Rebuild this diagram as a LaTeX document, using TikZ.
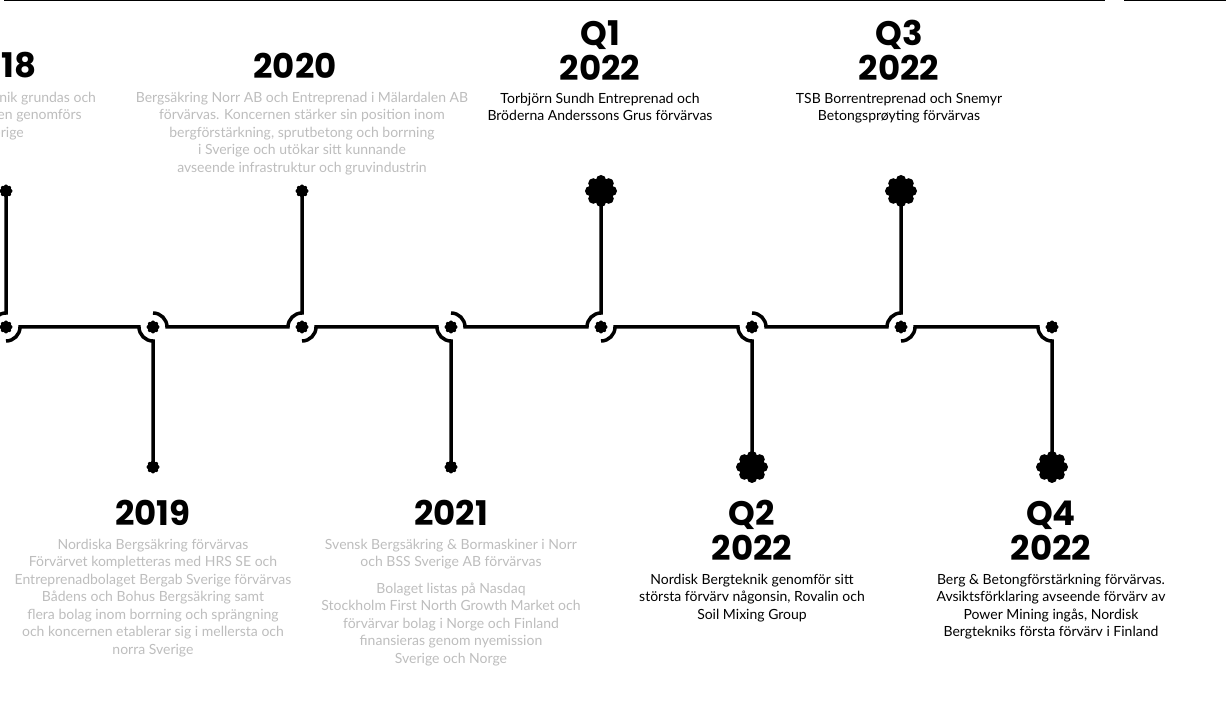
\documentclass[tikz,border=0pt]{standalone}
\usepackage{fontspec}
\setmainfont{Lato}
\newfontfamily\headfont{Poppins}
\usetikzlibrary{positioning}
\tikzset{
  head/.style={font=\headfont\bfseries\fontsize{34}{35}\selectfont, align=center, inner sep=0pt, anchor=south},
  txt/.style={font=\fontsize{14}{17.5}\selectfont, align=center, inner sep=0pt},
  faint/.style={txt, text=black!26},
  pics/bloom/.style={code={
      \fill (0,0) circle ({0.72*#1});
      \foreach \a in {0,45,...,315} \fill (\a:{0.68*#1}) circle ({0.32*#1});
  }}
}

\begin{document}
\begin{tikzpicture}[x=1pt, y=1pt, line width=3.5pt]
  \useasboundingbox (0,0) rectangle (1226,720);
  \clip (0,0) rectangle (1226,720);
  % cut edge at the top
  \draw[line width=1.5pt] (4,719.5) -- (1105,719.5) (1124,719.5) -- (1226,719.5);
  % junctions and ends
  \foreach \j/\x/\y in {y18/6/529, y19/153/253, y20/302/529, y21/451/253,
                        q1/601/529, q2/752/253, q3/901/529, q4/1052/253} {
    \coordinate (\j) at (\x,393);
    \coordinate (\j-end) at (\x,\y);
  }
  % line
  \draw (-40,393) -- ([xshift=-14pt]y18) arc (180:90:14) -- (y18-end);
  \foreach \a/\b in {y18/y19, y20/y21, q1/q2, q3/q4}
    \draw ([yshift=-14pt]\a) arc (270:360:14) -- ([xshift=-14pt]\b) arc (180:270:14) -- (\b-end);
  \foreach \a/\b in {y19/y20, y21/q1, q2/q3}
    \draw ([yshift=14pt]\a) arc (90:0:14) -- ([xshift=-14pt]\b) arc (180:90:14) -- (\b-end);
  % dots
  \foreach \j in {y18,y19,y20,y21,q1,q2,q3,q4} \pic at (\j) {bloom=6.5};
  \foreach \j in {y18,y19,y20,y21} \pic at (\j-end) {bloom=6.5};
  \foreach \j in {q1,q2,q3,q4} \pic at (\j-end) {bloom=16};
  % years above
  \node[head] (h18) at (-2,640) {2018};
  \node[faint, below=10pt of h18] (b18) {Nordisk Bergteknik grundas och\\första förvärven genomförs\\i Sverige};
  \node[head] (h20) at (295,640) {2020};
  \node[faint, below=10pt of h20, xshift=7pt] (b20) {Bergsäkring Norr AB och Entreprenad i Mälardalen AB\\förvärvas. Koncernen stärker sin position inom\\bergförstärkning, sprutbetong och borrning\\i Sverige och utökar sitt kunnande\\avseende infrastruktur och gruvindustrin};
  \node[head] (hq1) at (600,638) {Q1\\2022};
  \node[txt, below=9pt of hq1] (bq1) {Torbjörn Sundh Entreprenad och\\Bröderna Anderssons Grus förvärvas};
  \node[head] (hq3) at (899,638) {Q3\\2022};
  \node[txt, below=9pt of hq3] (bq3) {TSB Borrentreprenad och Snemyr\\Betongsprøyting förvärvas};
  % years below
  \node[head] (h19) at (153,193) {2019};
  \node[faint, below=10pt of h19] (b19) {Nordiska Bergsäkring förvärvas\\Förvärvet kompletteras med HRS SE och\\Entreprenadbolaget Bergab Sverige förvärvas\\Bådens och Bohus Bergsäkring samt\\flera bolag inom borrning och sprängning\\och koncernen etablerar sig i mellersta och\\norra Sverige};
  \node[head] (h21) at (451,193) {2021};
  \node[faint, below=10pt of h21] (b21) {Svensk Bergsäkring \& Bormaskiner i Norr\\och BSS Sverige AB förvärvas\\[9pt]Bolaget listas på Nasdaq\\Stockholm First North Growth Market och\\förvärvar bolag i Norge och Finland\\finansieras genom nyemission\\Sverige och Norge};
  \node[head] (hq2) at (752,158) {Q2\\2022};
  \node[txt, below=10pt of hq2] (bq2) {Nordisk Bergteknik genomför sitt\\största förvärv någonsin, Rovalin och\\Soil Mixing Group};
  \node[head] (hq4) at (1051,158) {Q4\\2022};
  \node[txt, below=10pt of hq4] (bq4) {Berg \& Betongförstärkning förvärvas.\\Avsiktsförklaring avseende förvärv av\\Power Mining ingås, Nordisk\\Bergtekniks första förvärv i Finland};
\end{tikzpicture}
\end{document}
